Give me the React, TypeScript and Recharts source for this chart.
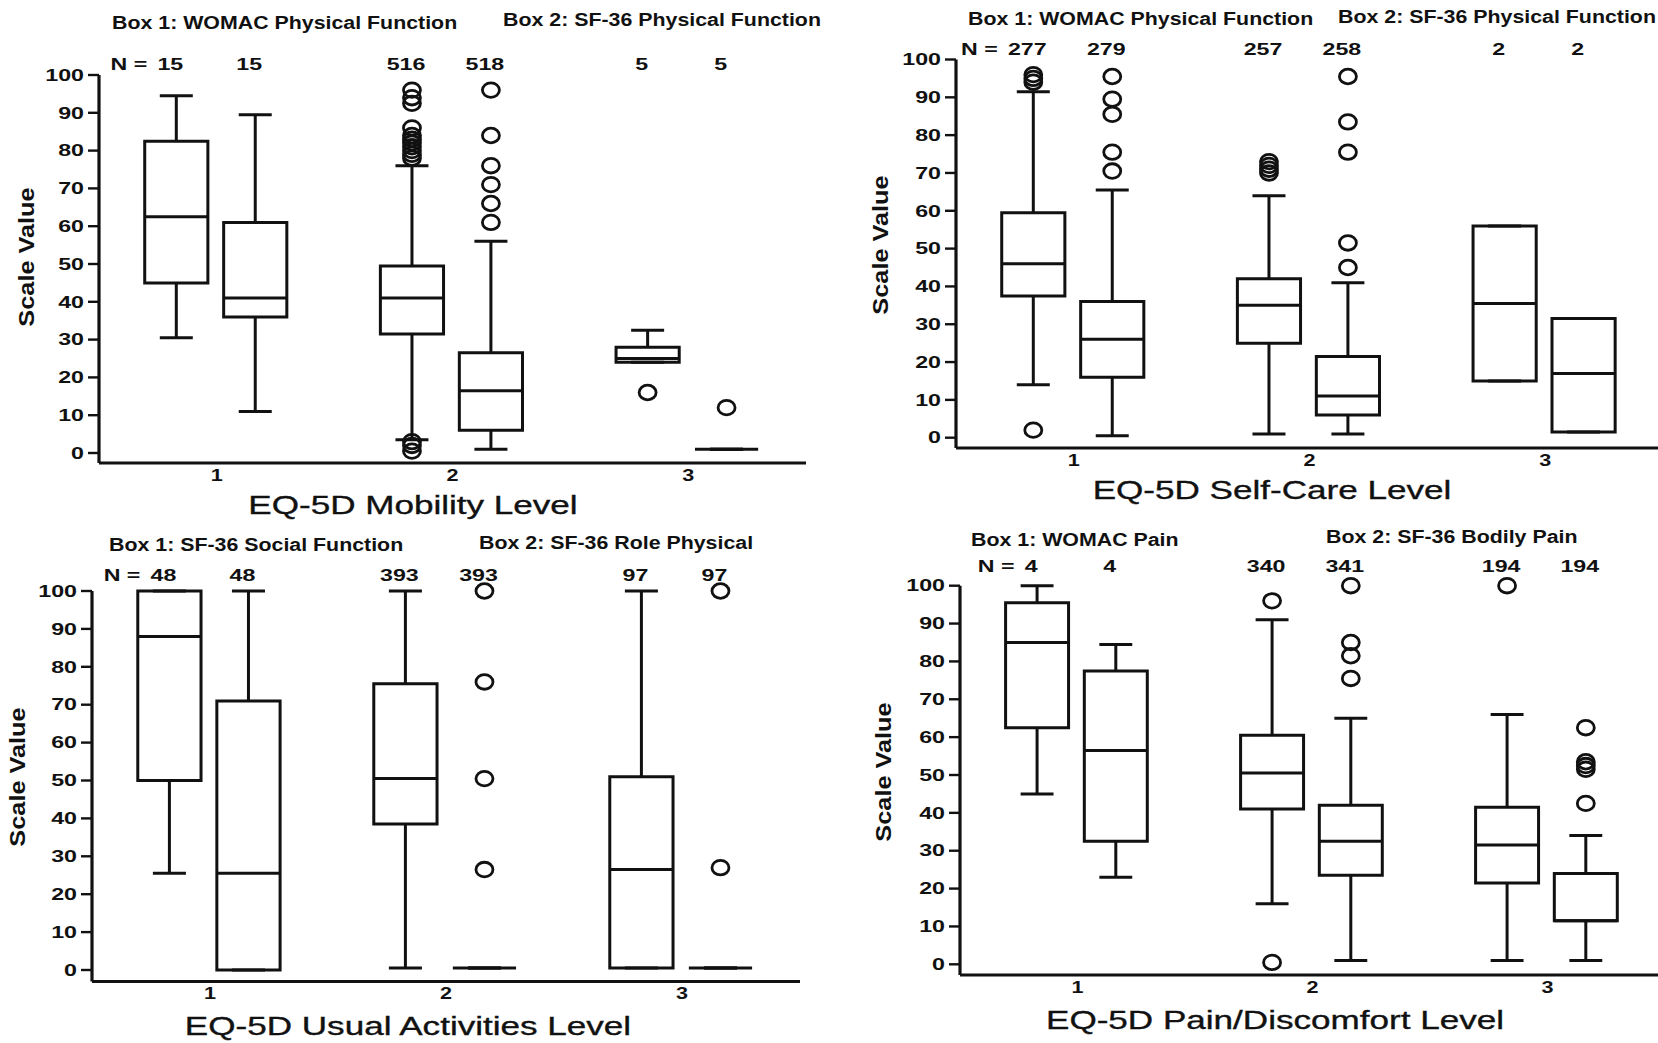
import React from 'react'
import { ComposedChart, XAxis, YAxis, Scatter, ReferenceArea, ReferenceLine } from 'recharts'

const FONT = '"Liberation Sans", Arial, Helvetica, sans-serif'
const INK = '#111'

// shared axis values
const LEVELS = [1, 2, 3]
const BOX_SHIFT = [-0.172, 0.163]
const Y_TICKS = [0, 10, 20, 30, 40, 50, 60, 70, 80, 90, 100]

// Mobility
const mobilityTitles = ['Box 1: WOMAC Physical Function', 'Box 2: SF-36 Physical Function']
const mobilityAxisTitle = 'EQ-5D Mobility Level'
const mobilityN = [15, 15, 516, 518, 5, 5]
// [min, q1, median, q3, max], level 1 box 1, level 1 box 2, level 2 box 1 ...
const mobilityStats = [
  [30.5, 45, 62.5, 82.5, 94.5],
  [11, 36, 41, 61, 89.5],
  [3.5, 31.5, 41, 49.5, 76],
  [1, 6, 16.5, 26.5, 56],
  [24, 24, 25, 28, 32.5],
  [1, 1, 1, 1, 1]
]
const mobilityOutliers = [
  [],
  [],
  [96, 94, 92.5, 86, 84, 83, 82, 81, 80, 79, 78, 3, 2, 0.5],
  [96, 84, 76, 71, 66, 61],
  [16],
  [12]
]

// Self-care
const selfCareTitles = ['Box 1: WOMAC Physical Function', 'Box 2: SF-36 Physical Function']
const selfCareAxisTitle = 'EQ-5D Self-Care Level'
const selfCareN = [277, 279, 257, 258, 2, 2]
const selfCareStats = [
  [14, 37.5, 46, 59.5, 91.5],
  [0.5, 16, 26, 36, 65.5],
  [1, 25, 35, 42, 64],
  [1, 6, 11, 21.5, 41],
  [15, 15, 35.5, 56, 56],
  [1.5, 1.5, 17, 31.5, 31.5]
]
const selfCareOutliers = [
  [96, 95, 94, 2],
  [95.5, 89.5, 85.5, 75.5, 70.5],
  [73, 72, 71, 70],
  [95.5, 83.5, 75.5, 51.5, 45],
  [],
  []
]

// Usual activities
const activityTitles = ['Box 1: SF-36 Social Function', 'Box 2: SF-36 Role Physical']
const activityAxisTitle = 'EQ-5D Usual Activities Level'
const activityN = [48, 48, 393, 393, 97, 97]
const activityStats = [
  [25.5, 50, 88, 100, 100],
  [0, 0, 25.5, 71, 100],
  [0.5, 38.5, 50.5, 75.5, 100],
  [0.5, 0.5, 0.5, 0.5, 0.5],
  [0.5, 0.5, 26.5, 51, 100],
  [0.5, 0.5, 0.5, 0.5, 0.5]
]
const activityOutliers = [[], [], [], [100, 76, 50.5, 26.5], [], [100, 27]]

// Pain / discomfort
const painTitles = ['Box 1: WOMAC Pain', 'Box 2: SF-36 Bodily Pain']
const painAxisTitle = 'EQ-5D Pain/Discomfort Level'
const painN = [4, 4, 340, 341, 194, 194]
const painStats = [
  [45, 62.5, 85, 95.5, 100],
  [23, 32.5, 56.5, 77.5, 84.5],
  [16, 41, 50.5, 60.5, 91],
  [1, 23.5, 32.5, 42, 65],
  [1, 21.5, 31.5, 41.5, 66],
  [1, 11.5, 11.5, 24, 34]
]
const painOutliers = [[], [], [96, 0.5], [100, 85, 81.5, 75.5], [100], [62.5, 53.5, 52.5, 51.5, 42.5]]

// page layout of the four panels (px)
const Y_W = 60
const N_H = 30
const X_H = 30
const HALF_BOX = 0.134
const HALF_CAP = 0.07

const LAYOUTS = [
  { cx: 0, cy: 0, cw: 830, ch: 520, left: 99, right: 806, top: 75, zero: 453, axis: 463,
    titleX: [112, 503], titleY: [24, 21], nLift: 10.5, axisTitle: [413, 506], yTitle: [27, 257] },
  { cx: 830, cy: 0, cw: 835, ch: 520, left: 956, right: 1663, top: 59.5, zero: 437.7, axis: 448,
    titleX: [968, 1338], titleY: [20, 18], nLift: 10.3, axisTitle: [1272, 491], yTitle: [881, 245] },
  { cx: 0, cy: 520, cw: 830, ch: 523, left: 92, right: 800, top: 591, zero: 970, axis: 981.5,
    titleX: [109, 479], titleY: [546, 544], nLift: 16, axisTitle: [408, 1027], yTitle: [18, 777] },
  { cx: 830, cy: 520, cw: 837, ch: 523, left: 960, right: 1665, top: 585.7, zero: 964.3, axis: 975,
    titleX: [971, 1326], titleY: [541, 538], nLift: 19.7, axisTitle: [1275, 1021], yTitle: [884, 772] }
]

function Wide({ x, y, children, anchor = 'middle', size = 16, sx = 1.45, weight = 700 }: any) {
  return (
    <text
      transform={`translate(${x},${y}) scale(${sx},1)`}
      textAnchor={anchor}
      fontSize={size}
      fontWeight={weight}
      fontFamily={FONT}
      fill={INK}
      dy="0.36em"
    >
      {children}
    </text>
  )
}

const Ring = (p: any) => (
  <ellipse cx={p.cx} cy={p.cy} rx={8.5} ry={7.3} fill="none" stroke={INK} strokeWidth={2.8} />
)

function BoxPanel({ layout, titles, axisTitle, counts, stats, outliers }: any) {
  const { cx, cy, cw, ch, left, right, top, zero, axis } = layout
  const perUnit = (zero - top) / 100
  const yMin = -(axis - zero) / perUnit
  const xs = LEVELS.flatMap(l => BOX_SHIFT.map(s => l + s))
  const points = outliers.flatMap((vals: number[], i: number) => vals.map(v => ({ x: xs[i], y: v })))
  const margin = {
    left: left - cx - Y_W,
    right: cx + cw - right,
    top: top - cy - N_H,
    bottom: cy + ch - axis - X_H
  }
  const line = { stroke: INK, strokeWidth: 3 }

  const renderN = (p: any) => {
    const i = xs.findIndex(v => Math.abs(v - p.payload.value) < 1e-6)
    const label = String(counts[i])
    const x = p.x - 6
    const y = p.y - layout.nLift
    return (
      <g>
        {i === 0 && (
          <Wide x={x - label.length * 6.5 - 10} y={y} anchor="end">
            N =
          </Wide>
        )}
        <Wide x={x} y={y}>{label}</Wide>
      </g>
    )
  }

  return (
    <>
      <div style={{ position: 'absolute', left: cx, top: cy }}>
        <ComposedChart width={cw} height={ch} margin={margin}>
          <XAxis
            type="number"
            dataKey="x"
            domain={[0.5, 3.5]}
            ticks={LEVELS}
            interval={0}
            height={X_H}
            axisLine={{ stroke: INK, strokeWidth: 3.2 }}
            tickLine={false}
            tickSize={0}
            tickMargin={0}
            tick={(p: any) => (
              <Wide x={p.x} y={p.y + 12} size={16} sx={1.35}>
                {p.payload.value}
              </Wide>
            )}
          />
          <XAxis
            xAxisId="n"
            orientation="top"
            type="number"
            dataKey="x"
            domain={[0.5, 3.5]}
            allowDataOverflow
            ticks={xs}
            interval={0}
            height={N_H}
            axisLine={false}
            tickLine={false}
            tickSize={0}
            tickMargin={0}
            tick={renderN}
          />
          <YAxis
            type="number"
            dataKey="y"
            domain={[yMin, 100]}
            ticks={Y_TICKS}
            interval={0}
            width={Y_W}
            axisLine={{ stroke: INK, strokeWidth: 3.2 }}
            tickLine={{ stroke: INK, strokeWidth: 2.4 }}
            tickSize={11}
            tickMargin={4}
            tick={(p: any) => (
              <Wide x={p.x} y={p.y} anchor="end">
                {p.payload.value}
              </Wide>
            )}
          />
          {stats.map((s: number[], i: number) => {
            const x = xs[i]
            const [lo, q1, med, q3, hi] = s
            return (
              <React.Fragment key={i}>
                <ReferenceArea x1={x - HALF_BOX} x2={x + HALF_BOX} y1={q1} y2={q3} fill="none" {...line} />
                <ReferenceLine segment={[{ x: x - HALF_BOX, y: med }, { x: x + HALF_BOX, y: med }]} {...line} />
                <ReferenceLine segment={[{ x, y: lo }, { x, y: q1 }]} {...line} />
                <ReferenceLine segment={[{ x, y: q3 }, { x, y: hi }]} {...line} />
                <ReferenceLine segment={[{ x: x - HALF_CAP, y: lo }, { x: x + HALF_CAP, y: lo }]} {...line} />
                <ReferenceLine segment={[{ x: x - HALF_CAP, y: hi }, { x: x + HALF_CAP, y: hi }]} {...line} />
              </React.Fragment>
            )
          })}
          <Scatter data={points} dataKey="y" shape={Ring} isAnimationActive={false} />
        </ComposedChart>
      </div>
      {titles.map((t: string, k: number) => (
        <div
          key={t + k}
          style={{
            position: 'absolute',
            left: layout.titleX[k],
            top: layout.titleY[k],
            transform: 'translateY(-50%) scaleX(1.22)',
            transformOrigin: '0 50%',
            fontSize: 17.5,
            fontWeight: 700,
            lineHeight: 1,
            whiteSpace: 'nowrap'
          }}
        >
          {t}
        </div>
      ))}
      <div
        style={{
          position: 'absolute',
          left: layout.axisTitle[0],
          top: layout.axisTitle[1],
          transform: 'translate(-50%, -50%) scaleX(1.37)',
          fontSize: 25.6,
          lineHeight: 1,
          whiteSpace: 'nowrap',
          WebkitTextStroke: '0.35px #111'
        }}
      >
        {axisTitle}
      </div>
      <div
        style={{
          position: 'absolute',
          left: layout.yTitle[0],
          top: layout.yTitle[1],
          transform: 'translate(-50%, -50%) rotate(-90deg) scaleX(1.15)',
          fontSize: 22,
          fontWeight: 700,
          lineHeight: 1,
          whiteSpace: 'nowrap'
        }}
      >
        Scale Value
      </div>
    </>
  )
}

export default function App() {
  return (
    <div
      style={{
        position: 'absolute',
        left: 0,
        top: 0,
        width: 1658,
        height: 1043,
        overflow: 'hidden',
        background: '#fff',
        color: INK,
        fontFamily: FONT
      }}
    >
      <BoxPanel layout={LAYOUTS[0]} titles={mobilityTitles} axisTitle={mobilityAxisTitle}
        counts={mobilityN} stats={mobilityStats} outliers={mobilityOutliers} />
      <BoxPanel layout={LAYOUTS[1]} titles={selfCareTitles} axisTitle={selfCareAxisTitle}
        counts={selfCareN} stats={selfCareStats} outliers={selfCareOutliers} />
      <BoxPanel layout={LAYOUTS[2]} titles={activityTitles} axisTitle={activityAxisTitle}
        counts={activityN} stats={activityStats} outliers={activityOutliers} />
      <BoxPanel layout={LAYOUTS[3]} titles={painTitles} axisTitle={painAxisTitle}
        counts={painN} stats={painStats} outliers={painOutliers} />
    </div>
  )
}
